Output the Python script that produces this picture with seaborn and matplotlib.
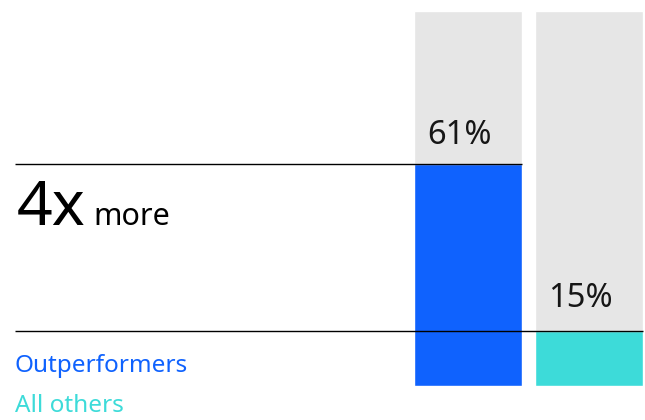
import numpy as np
import pandas as pd
import seaborn as sns
import matplotlib.pyplot as plt

groups = ["Outperformers", "All others"]
values = [61, 15]
colors = ["#0f62fe", "#3ddbd9"]
headline_big = "4x"
headline_small = "more"

sns.set_style("white")
plt.rcParams["font.family"] = ["Noto Sans", "DejaVu Sans"]

df = pd.DataFrame({"group": groups, "value": values})

fig = plt.figure(figsize=(6.45, 4.2), dpi=100)
ax = fig.add_axes([0, 34 / 420, 1, 375 / 420])

ymax = 103
bw = 108 / 121
# gray background bars
sns.barplot(data=df.assign(full=ymax), x="group", y="full", color="#e6e6e6",
            width=bw, saturation=1, ax=ax)
sns.barplot(data=df, x="group", y="value", hue="group", palette=colors,
            width=bw, saturation=1, legend=False, ax=ax)

ax.set_ylim(0, ymax)
ax.set_xlim(-468 / 121, 1 + 56 / 121)
ax.axis("off")

left = -(468 - 15) / 121
ax.hlines(values[0], left, 0 + bw / 2, color="black", lw=1)
ax.hlines(values[1], left, 1 + bw / 2, color="black", lw=1)

for i, (v, dy) in enumerate(zip(values, [20, 24])):
    ax.annotate(f"{v}%", xy=(i - bw / 2, v), xytext=(13, dy),
                textcoords="offset pixels", ha="left", va="baseline",
                fontsize=23.5, color="#161616")

# headline
ax.annotate(headline_big, xy=(left, values[0]), xytext=(2, -61),
            textcoords="offset pixels", ha="left", va="baseline",
            fontsize=45, color="black", fontweight="light")
ax.annotate(headline_small, xy=(left, values[0]), xytext=(78, -61),
            textcoords="offset pixels", ha="left", va="baseline",
            fontsize=22, color="black")

fig.text(15 / 645, 1 - 372 / 420, groups[0], color=colors[0], fontsize=17.5,
         ha="left", va="baseline")
fig.text(15 / 645, 1 - 412 / 420, groups[1], color=colors[1], fontsize=17.5,
         ha="left", va="baseline")

fig.savefig("out.png", dpi=100)
